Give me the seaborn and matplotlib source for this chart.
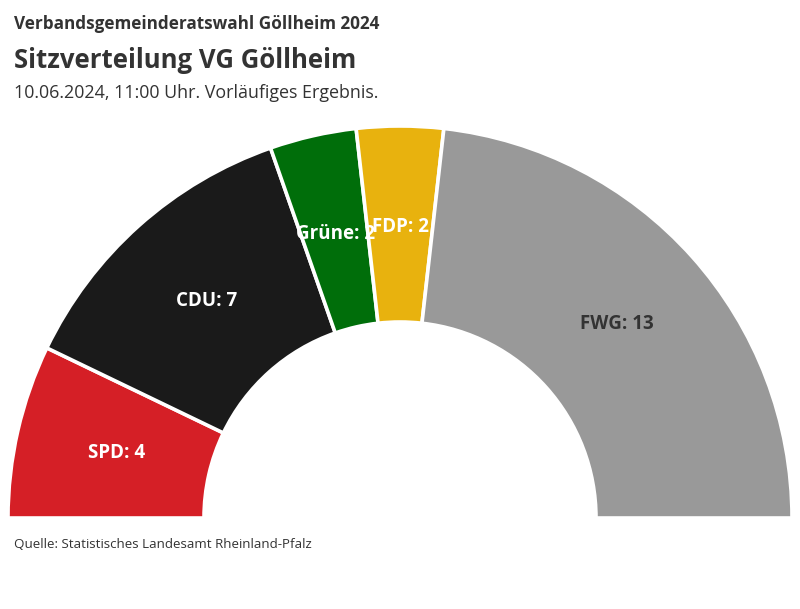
import matplotlib
matplotlib.use("Agg")
import matplotlib.pyplot as plt
import numpy as np
import seaborn as sns

parteien = ["SPD", "CDU", "Grüne", "FDP", "FWG"]
sitze = [4, 7, 2, 2, 13]
farben = ["#d51f26", "#1a1a1a", "#006e0a", "#e8b20e", "#999999"]
label_farben = ["white", "white", "white", "white", "#333333"]

sns.set_theme(style="white")
plt.rcParams["font.family"] = ["Open Sans", "DejaVu Sans"]

fig = plt.figure(figsize=(8, 6.09), dpi=100)
ax = fig.add_axes([8 / 800, (609 - 518) / 609, 784 / 800, 392 / 609])

gesamt = sum(sitze)
werte = sitze + [gesamt]
wedges, _ = ax.pie(
    werte,
    colors=farben + ["none"],
    startangle=180,
    counterclock=False,
    radius=1,
    wedgeprops={"width": 0.5, "edgecolor": "white", "linewidth": 2.6},
)
wedges[-1].set_visible(False)

# Beschriftungen in der Mitte jedes Segments
kum = np.cumsum([0] + sitze)
for i, (partei, n) in enumerate(zip(parteien, sitze)):
    winkel = np.deg2rad(180 - (kum[i] + n / 2) / gesamt * 180)
    r = 0.742
    ax.text(r * np.cos(winkel), r * np.sin(winkel), f"{partei}: {n}",
            ha="center", va="center", fontsize=13.5, fontweight="bold",
            color=label_farben[i])

ax.set_xlim(-1, 1)
ax.set_ylim(0, 1)
ax.set_aspect("auto")
ax.axis("off")

fig.text(14 / 800, 1 - 24 / 609, "Verbandsgemeinderatswahl Göllheim 2024",
         fontsize=12.3, fontweight="bold", color="#333333", va="center")
fig.text(14 / 800, 1 - 60 / 609, "Sitzverteilung VG Göllheim",
         fontsize=18.5, fontweight="bold", color="#333333", va="center")
fig.text(14 / 800, 1 - 93 / 609, "10.06.2024, 11:00 Uhr. Vorläufiges Ergebnis.",
         fontsize=12.9, color="#333333", va="center")
fig.text(14 / 800, 1 - 545 / 609, "Quelle: Statistisches Landesamt Rheinland-Pfalz",
         fontsize=9.6, color="#333333", va="center")

fig.savefig("out.png", dpi=100, facecolor="white")
